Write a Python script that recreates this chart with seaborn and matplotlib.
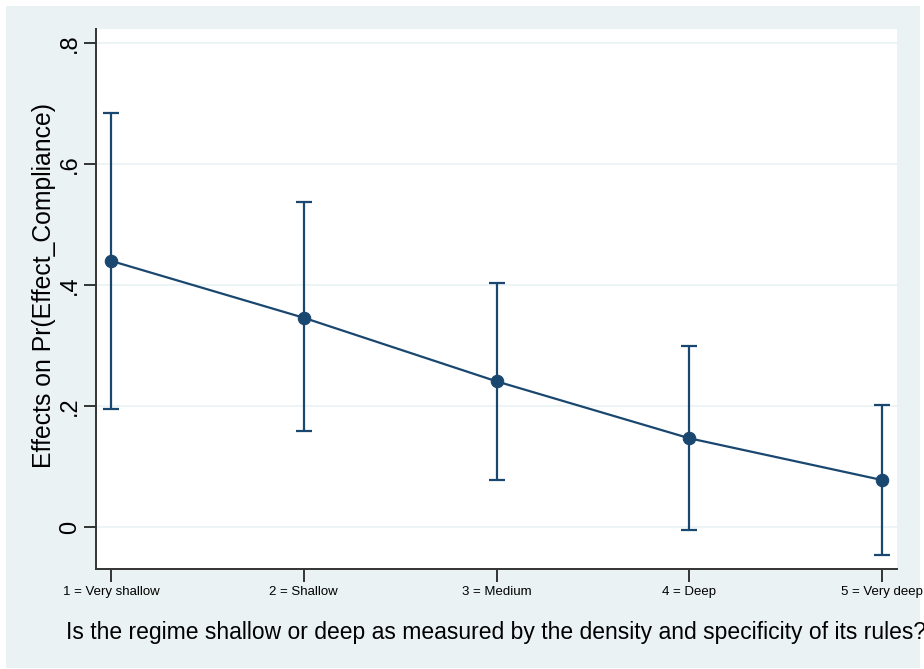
import matplotlib
matplotlib.use("Agg")
import matplotlib.pyplot as plt
import seaborn as sns
import pandas as pd
from matplotlib.patches import Rectangle

# Predicted effects with 95% confidence limits by regime depth
levels = [1, 2, 3, 4, 5]
level_labels = ["1 = Very shallow", "2 = Shallow", "3 = Medium", "4 = Deep", "5 = Very deep"]
margin = [0.440, 0.346, 0.241, 0.147, 0.078]
ci_low = [0.196, 0.159, 0.078, -0.005, -0.046]
ci_high = [0.684, 0.537, 0.404, 0.299, 0.202]
y_ticks = [0, 0.2, 0.4, 0.6, 0.8]
y_tick_labels = ["0", ".2", ".4", ".6", ".8"]

navy = "#1a476f"
bg = "#eaf2f3"
axis_col = "#333333"

sns.set_theme(style="white")
plt.rcParams["font.family"] = ["Liberation Sans", "DejaVu Sans"]
plt.rcParams["text.color"] = "black"
plt.rcParams["axes.labelcolor"] = "black"

fig = plt.figure(figsize=(9.24, 6.69), dpi=100)
fig.patch.set_facecolor("white")
fig.patches.append(Rectangle((6 / 924, 1 / 669), (920 - 6) / 924, (663 - 1) / 669,
                             transform=fig.transFigure, facecolor=bg,
                             edgecolor="none", zorder=-5))

ax = fig.add_axes([96 / 924, 100 / 669, (897 - 96) / 924, (569 - 29) / 669])
ax.set_zorder(2)
ax.set_facecolor("white")

df = pd.DataFrame({"level": levels, "margin": margin})
lo = [m - l for m, l in zip(margin, ci_low)]
hi = [h - m for m, h in zip(margin, ci_high)]
ax.errorbar(levels, margin, yerr=[lo, hi], fmt="none", ecolor=navy,
            elinewidth=1.6, capsize=5.5, capthick=1.6, zorder=3)
sns.lineplot(data=df, x="level", y="margin", ax=ax, color=navy, linewidth=1.6,
             marker="o", markersize=9, markeredgecolor=navy, markerfacecolor=navy,
             zorder=4)

ax.set_xlim(0.922, 5.078)
ax.set_ylim(-0.069, 0.823)
ax.set_yticks(y_ticks)
ax.set_yticklabels(y_tick_labels, rotation=90, va="center", fontsize=17)
ax.set_xticks(levels)
ax.set_xticklabels(level_labels, fontsize=9.5)
ax.grid(axis="y", color=bg, linewidth=1.2)
ax.grid(axis="x", visible=False)
ax.set_axisbelow(True)

for side in ["top", "right"]:
    ax.spines[side].set_visible(False)
for side in ["left", "bottom"]:
    ax.spines[side].set_color(axis_col)
    ax.spines[side].set_linewidth(1.4)
ax.tick_params(axis="both", which="major", length=9, width=1.4, color=axis_col,
               labelcolor="black", bottom=True, left=True)
ax.tick_params(axis="y", pad=2)
ax.tick_params(axis="x", pad=3)

ax.set_ylabel("Effects on Pr(Effect_Compliance)", fontsize=17.8, color="black",
              ha="center", va="center")
ax.yaxis.set_label_coords(-0.0655, 0.525)
ax.set_xlabel("Is the regime shallow or deep as measured by the density and specificity of its rules?",
              fontsize=16.5, color="black", ha="center", va="center")
ax.xaxis.set_label_coords(0.5, -0.1176)

fig.savefig("out.png", dpi=100)
